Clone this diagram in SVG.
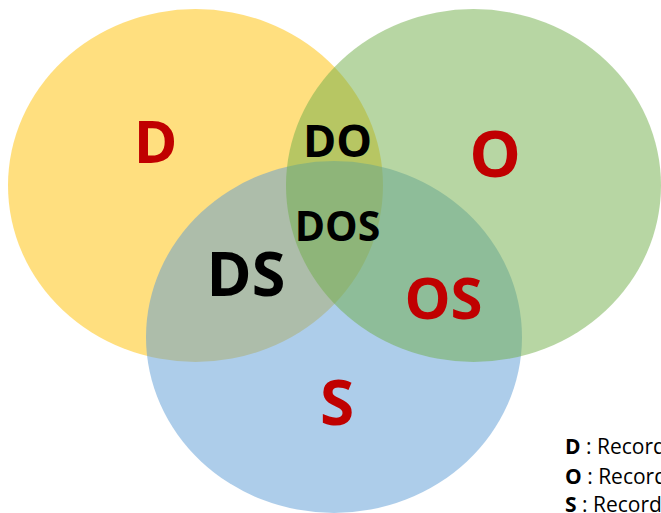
<svg xmlns="http://www.w3.org/2000/svg" width="661" height="513" viewBox="0 0 661 513">
<style>
.big{font-family:"Open Sans","Liberation Sans",sans-serif;font-weight:bold;text-anchor:middle}
.red{fill:#C00000}
.blk{fill:#000000}
.leg{font-family:"Open Sans","Liberation Sans",sans-serif;font-size:21px;fill:#000}
</style>
<rect width="661" height="513" fill="#ffffff"/>
<g id="set-D"><ellipse cx="195.5" cy="185.5" rx="187.5" ry="176.5" fill="#FFC000" fill-opacity="0.5"/></g>
<g id="set-S"><ellipse cx="334" cy="337" rx="188" ry="176" fill="#5B9BD5" fill-opacity="0.5"/></g>
<g id="set-O"><ellipse cx="473.5" cy="185.5" rx="187.5" ry="176.5" fill="#70AD47" fill-opacity="0.5"/></g>
<g id="labels">
<text class="big red" x="155.5" y="163" font-size="59">D</text>
<text class="big red" x="495" y="177" font-size="65">O</text>
<text class="big blk" x="337.5" y="157" font-size="45">DO</text>
<text class="big blk" x="337.5" y="241" font-size="41">DOS</text>
<text class="big blk" x="246" y="296" font-size="61">DS</text>
<text class="big red" x="443.5" y="319" font-size="58">OS</text>
<text class="big red" x="337" y="425" font-size="62">S</text>
</g>
<g id="legend">
<text class="leg" x="565" y="454"><tspan font-weight="bold">D</tspan> : Record</text>
<text class="leg" x="565" y="484"><tspan font-weight="bold">O</tspan> : Record</text>
<text class="leg" x="565" y="512"><tspan font-weight="bold">S</tspan> : Record</text>
</g>
</svg>
